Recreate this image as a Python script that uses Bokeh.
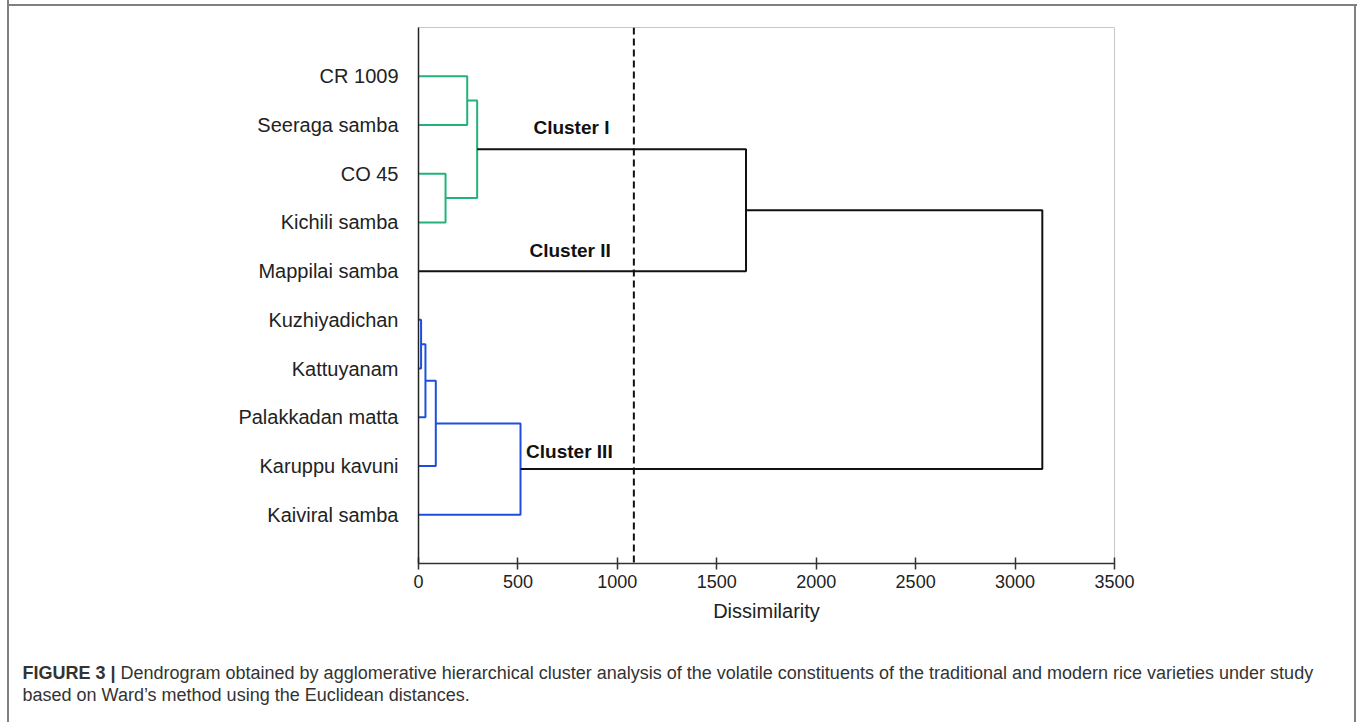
from bokeh.plotting import figure
from bokeh.models import (FixedTicker, Range1d, Span, Label, ColumnDataSource)
from bokeh.embed import file_html
from bokeh.resources import INLINE

# ---------------- data ----------------
leaves = ["CR 1009", "Seeraga samba", "CO 45", "Kichili samba", "Mappilai samba",
          "Kuzhiyadichan", "Kattuyanam", "Palakkadan matta", "Karuppu kavuni",
          "Kaiviral samba"]
# merges: (child a, child b, dissimilarity, colour group); leaves are "L<i>", merges "M<j>"
merge_a = ["L0", "L2", "M0", "M2", "L5", "M4", "M5", "M6", "M3"]
merge_b = ["L1", "L3", "M1", "L4", "L6", "L7", "L8", "L9", "M7"]
merge_h = [245, 136, 295, 1647, 13, 35, 87, 513, 3137]
merge_grp = ["I", "I", "I", "top", "III", "III", "III", "III", "top"]
group_colors = {"I": "#22b27a", "III": "#1d4fde", "top": "#111111"}
x_ticks = [0, 500, 1000, 1500, 2000, 2500, 3000, 3500]
cut_level = 1083
cluster_names = ["Cluster I", "Cluster II", "Cluster III"]
caption_bold = "FIGURE 3 |"
caption_line1 = ("Dendrogram obtained by agglomerative hierarchical cluster analysis of the volatile "
                 "constituents of the traditional and modern rice varieties under study")
caption_line2 = "based on Ward\u2019s method using the Euclidean distances."

# ---------------- layout helpers ----------------
n = len(leaves)
leaf_y = {f"L{i}": n - i for i in range(n)}
pos = {k: (0.0, v) for k, v in leaf_y.items()}
xs, ys, cols = [], [], []
for j, (a, b, h, g) in enumerate(zip(merge_a, merge_b, merge_h, merge_grp)):
    xa, ya = pos[a]
    xb, yb = pos[b]
    xs.append([xa, h, h, xb])
    ys.append([ya, ya, yb, yb])
    cols.append(group_colors[g])
    pos[f"M{j}"] = (h, (ya + yb) / 2)

W, H = 1357, 722
FL, FR, FT, FB = 418, 1114, 27, 563   # frame edges in canvas px

# outer grey frame of the figure panel (left, top, right edges) drawn with inset shadows
frame_css = ("inset 7px 0 0 0 #ffffff, inset 9px 0 0 0 #808080, "
             "inset 0 4px 0 0 #ffffff, inset 0 6px 0 0 #808080, "
             "inset -1px 0 0 0 #ffffff, inset -3px 0 0 0 #808080")

p = figure(width=W, height=H, output_backend="svg", toolbar_location=None,
           x_range=Range1d(0, 3500), y_range=Range1d(0, n + 1),
           min_border_left=FL, min_border_right=W - FR,
           min_border_top=FT, min_border_bottom=H - FB,
           styles={"box-shadow": frame_css, "background-color": "#ffffff"})
p.grid.visible = False
p.outline_line_color = "#c8c8c8"
p.outline_line_width = 1
p.background_fill_color = "white"
p.border_fill_color = None

# x axis
xa = p.xaxis[0]
xa.ticker = FixedTicker(ticks=x_ticks)
xa.major_tick_in = 6
xa.major_tick_out = 6
xa.minor_tick_in = 0
xa.minor_tick_out = 0
xa.axis_line_color = "#333333"
xa.major_tick_line_color = "#333333"
xa.axis_line_width = 1.5
xa.major_tick_line_width = 1.5
xa.major_label_text_font = "Liberation Sans"
xa.major_label_text_font_size = "18px"
xa.major_label_text_color = "#222222"
xa.major_label_standoff = 5
xa.axis_label = "Dissimilarity"
xa.axis_label_text_font = "Liberation Sans"
xa.axis_label_text_font_size = "20px"
xa.axis_label_text_font_style = "normal"
xa.axis_label_text_color = "#222222"
xa.axis_label_standoff = 9

# y axis
ya = p.yaxis[0]
ya.ticker = FixedTicker(ticks=[leaf_y[f"L{i}"] for i in range(n)])
ya.major_label_overrides = {leaf_y[f"L{i}"]: leaves[i] for i in range(n)}
ya.major_tick_in = 0
ya.major_tick_out = 0
ya.minor_tick_in = 0
ya.minor_tick_out = 0
ya.axis_line_color = "#222222"
ya.axis_line_width = 1.5
ya.major_label_text_font = "Liberation Sans"
ya.major_label_text_font_size = "20px"
ya.major_label_text_color = "#222222"
ya.major_label_standoff = 20

# dendrogram
p.multi_line(xs="xs", ys="ys", line_color="c", line_width=2,
             source=ColumnDataSource(dict(xs=xs, ys=ys, c=cols)))

# cut line
p.add_layout(Span(location=cut_level, dimension="height", line_color="#111111",
                  line_width=2, line_dash="7 4"))

# cluster labels
for name, (lx, ly) in zip(cluster_names, [(578, 8.95), (558, 6.42), (541, 2.30)]):
    p.add_layout(Label(x=lx, y=ly, text=name, text_font="Liberation Sans",
                       text_font_size="19px", text_font_style="bold",
                       text_color="#111111", text_baseline="middle", text_align="left"))

# caption (canvas units, in the bottom side panel so it is not clipped to the frame)
cap_font = "Liberation Sans"
p.add_layout(Label(x=22, y=672, x_units="canvas", y_units="canvas",
                   text=caption_bold, text_font=cap_font, text_font_size="18px",
                   text_font_style="bold", text_color="#333333",
                   text_baseline="middle", text_align="left"), "below")
p.add_layout(Label(x=120, y=672, x_units="canvas", y_units="canvas",
                   text=caption_line1, text_font=cap_font, text_font_size="18px",
                   text_color="#333333", text_baseline="middle", text_align="left"), "below")
p.add_layout(Label(x=22, y=694, x_units="canvas", y_units="canvas",
                   text=caption_line2, text_font=cap_font, text_font_size="18px",
                   text_color="#333333", text_baseline="middle", text_align="left"), "below")

open("out.html", "w").write(file_html(p, INLINE))
